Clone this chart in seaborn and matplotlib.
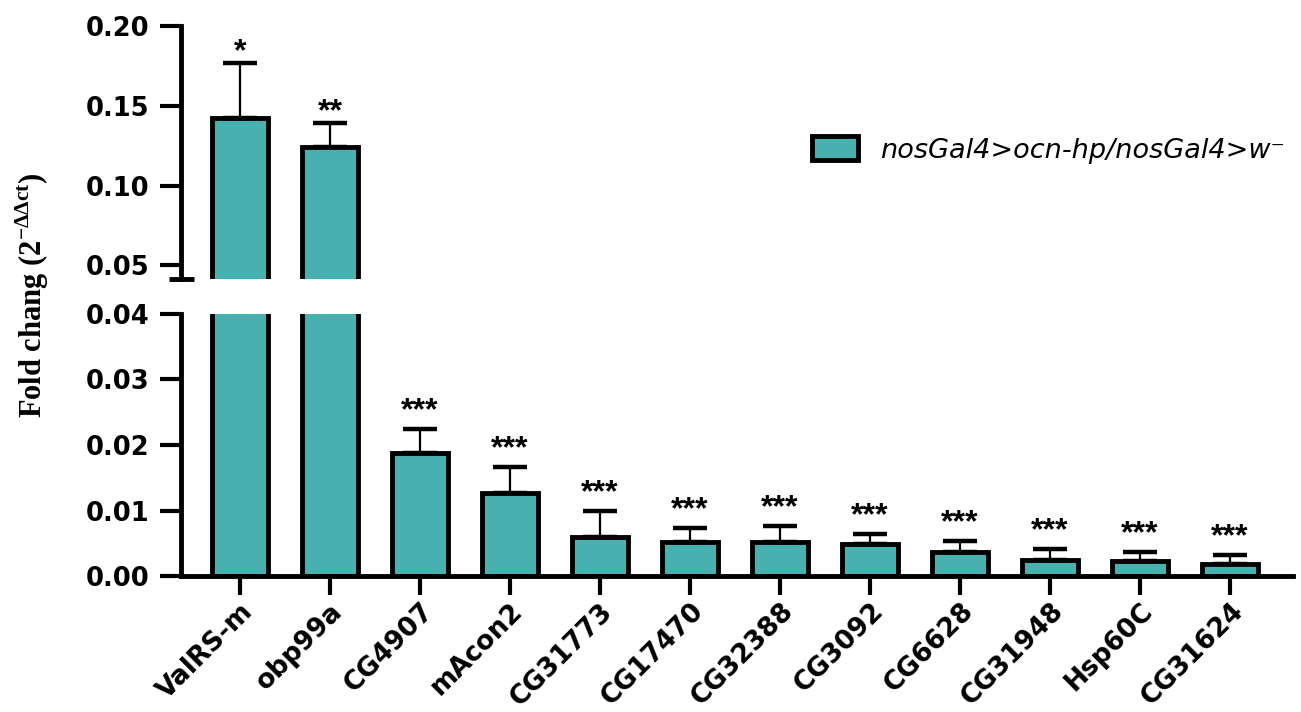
import numpy as np
import pandas as pd
import matplotlib
matplotlib.use("Agg")
import matplotlib.pyplot as plt
from matplotlib.patches import Patch
from matplotlib.ticker import FormatStrFormatter
import seaborn as sns

# Relative expression of candidate genes (mean and upper SEM)
genes = ["ValRS-m", "obp99a", "CG4907", "mAcon2", "CG31773", "CG17470",
         "CG32388", "CG3092", "CG6628", "CG31948", "Hsp60C", "CG31624"]
fold_change = [0.1425, 0.1243, 0.0188, 0.0126, 0.0059, 0.0052,
               0.0052, 0.0049, 0.0037, 0.0024, 0.0023, 0.0019]
sem = [0.0345, 0.0150, 0.0037, 0.0040, 0.0041, 0.0022,
       0.0024, 0.0015, 0.0017, 0.0017, 0.0013, 0.0013]
signif = ["*", "**", "***", "***", "***", "***",
          "***", "***", "***", "***", "***", "***"]
legend_label = "nosGal4>ocn-hp/nosGal4>w\u207b"

upper_ticks = [0.05, 0.10, 0.15, 0.20]
lower_ticks = [0.00, 0.01, 0.02, 0.03, 0.04]
upper_lim = (0.0415, 0.20)
lower_lim = (0.0, 0.04)

teal = "#47B1AF"
lw = 3.5

sns.set_style("ticks")
plt.rcParams.update({
    "font.family": ["DejaVu Sans"],
    "text.color": "black",
    "axes.edgecolor": "black",
    "axes.labelcolor": "black",
    "xtick.color": "black",
    "ytick.color": "black",
})

df = pd.DataFrame({"gene": genes, "value": fold_change})

fig = plt.figure(figsize=(13.01, 7.12), dpi=100)
left, right = 0.1391, 0.9939
ax_low = fig.add_axes([left, 0.191, right - left, 0.368])
ax_up = fig.add_axes([left, 0.6081, right - left, 0.3554])

xs = np.arange(len(genes))
for ax, lim, ticks, star_off in [(ax_low, lower_lim, lower_ticks, 7),
                                 (ax_up, upper_lim, upper_ticks, 2)]:
    sns.barplot(data=df, x="gene", y="value", color=teal, edgecolor="black",
                linewidth=lw, width=0.62, errorbar=None, saturation=1,
                ax=ax, zorder=2)
    ax.errorbar(xs, fold_change, yerr=[np.zeros(len(sem)), sem], fmt="none",
                ecolor="black", elinewidth=1.6, capsize=12, capthick=3.2,
                zorder=1)
    for x, v, e, s in zip(xs, fold_change, sem, signif):
        top = v + e
        if lim[0] <= top <= lim[1]:
            ax.annotate(s, (x, top), xytext=(0, star_off),
                        textcoords="offset points", ha="center",
                        va="baseline", fontsize=23, color="black",
                        family=["Liberation Sans", "DejaVu Sans"],
                        fontweight="bold")
    ax.set_ylim(*lim)
    ax.set_xlim(-0.656, 11.7)
    ax.set_yticks(ticks)
    ax.yaxis.set_major_formatter(FormatStrFormatter("%.2f"))
    ax.tick_params(axis="y", which="major", direction="out", length=15,
                   width=3, labelsize=18.5, pad=8)
    for lab in ax.get_yticklabels():
        lab.set_fontweight("bold")
    for side in ["top", "right"]:
        ax.spines[side].set_visible(False)
    ax.spines["left"].set_linewidth(lw)
    ax.spines["bottom"].set_linewidth(lw)
    ax.set_ylabel("")
    ax.set_xlabel("")
    ax.patch.set_alpha(0)

# Break marks at the ends of the two axis segments
ax_up.set_yticks([upper_lim[0]], minor=True)
ax_up.tick_params(axis="y", which="minor", direction="inout", length=18,
                  width=3.5)
ax_low.set_yticks([lower_lim[1]], minor=True)
ax_low.tick_params(axis="y", which="minor", direction="inout", length=18,
                   width=3.5)

ax_up.spines["bottom"].set_visible(False)
ax_up.tick_params(axis="x", which="both", bottom=False, labelbottom=False)

ax_low.tick_params(axis="x", direction="out", length=14, width=3, pad=2)
ax_low.set_xticks(xs)
ax_low.set_xticklabels(genes, rotation=45, ha="right", va="top",
                       rotation_mode="anchor", fontsize=19,
                       fontweight="bold")

fig.text(0.025, 1 - 295 / 712, "Fold chang (2$^{\\mathregular{-\u0394\u0394ct}}$)",
         rotation=90, ha="center", va="center", fontsize=22,
         fontweight="bold", family=["Liberation Serif", "DejaVu Serif"])

handle = Patch(facecolor=teal, edgecolor="black", linewidth=lw)
fig.legend([handle], [legend_label], loc="center left",
           bbox_to_anchor=(812 / 1301, 1 - 150 / 712),
           bbox_transform=fig.transFigure, frameon=False, borderpad=0,
           borderaxespad=0, handlelength=1.7, handleheight=0.96,
           handletextpad=0.8,
           prop={"size": 19.5, "style": "italic",
                 "family": ["DejaVu Sans"]})

fig.savefig("out.png", dpi=100)
